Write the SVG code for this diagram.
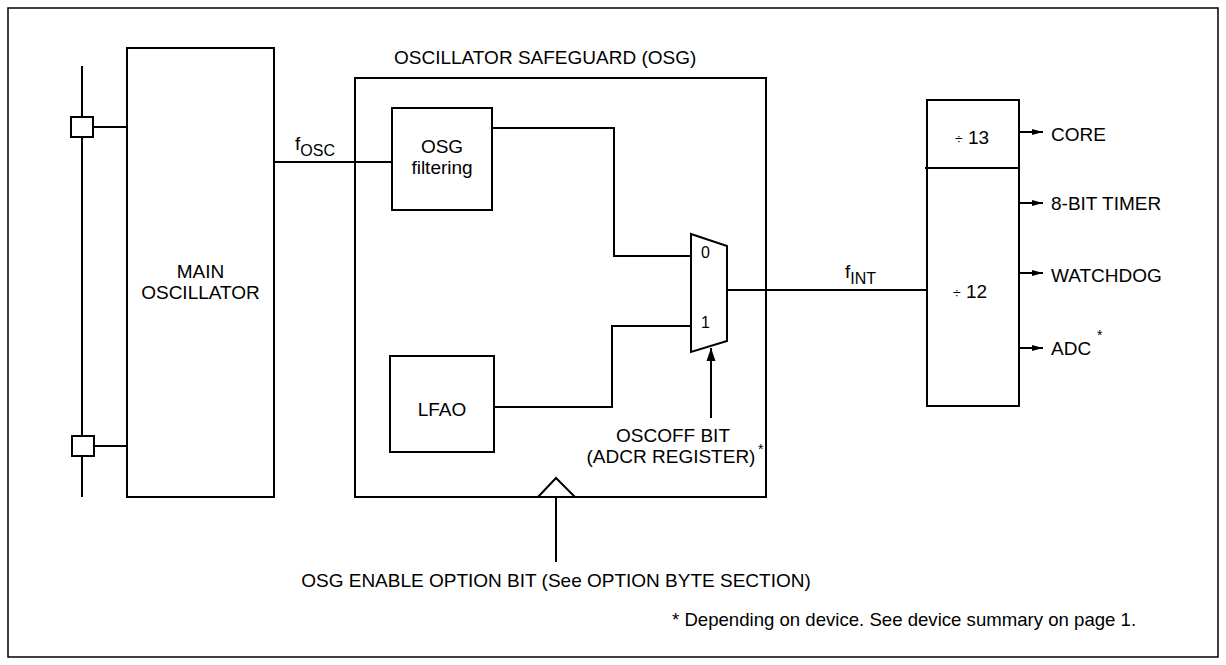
<svg xmlns="http://www.w3.org/2000/svg" width="1226" height="665" viewBox="0 0 1226 665">
<style>
.b{fill:#fff;stroke:#000;stroke-width:2}
.l{fill:none;stroke:#000;stroke-width:2}
text{font-family:"Liberation Sans",Arial,sans-serif;font-size:19px;fill:#000}
.c{text-anchor:middle}
.s{font-size:14px}
.sub{font-size:16px}
.m{font-size:16px}
</style>
<defs>
<marker id="ah" markerWidth="12" markerHeight="8" refX="11" refY="4" orient="auto" markerUnits="userSpaceOnUse">
<path d="M0,1 L11,4 L0,7 Z" fill="#000"/>
</marker>
<marker id="au" markerWidth="14" markerHeight="10" refX="13" refY="5" orient="auto" markerUnits="userSpaceOnUse">
<path d="M0,0.5 L13,5 L0,9.5 Z" fill="#000"/>
</marker>
</defs>
<rect x="8" y="8" width="1210" height="649" fill="#fff" stroke="#000" stroke-width="1.5"/>

<g id="connectors">
<line class="l" x1="82" y1="66" x2="82" y2="497"/>
<line class="l" x1="93" y1="127" x2="127" y2="127"/>
<line class="l" x1="94" y1="446" x2="127" y2="446"/>
<line class="l" x1="274" y1="162" x2="392" y2="162"/>
<polyline class="l" points="492,128 614,128 614,256 691,256"/>
<polyline class="l" points="494,407 612,407 612,326 691,326"/>
<line class="l" x1="727" y1="290" x2="927" y2="290"/>
<line class="l" x1="711" y1="418" x2="711" y2="348" marker-end="url(#au)"/>
<line class="l" x1="556" y1="562" x2="556" y2="480" marker-end="url(#au)"/>
<line class="l" x1="1019" y1="132" x2="1043" y2="132" marker-end="url(#ah)"/>
<line class="l" x1="1019" y1="203" x2="1043" y2="203" marker-end="url(#ah)"/>
<line class="l" x1="1019" y1="273" x2="1043" y2="273" marker-end="url(#ah)"/>
<line class="l" x1="1019" y1="348" x2="1043" y2="348" marker-end="url(#ah)"/>
</g>

<g id="pin-top"><rect class="b" x="71" y="117" width="22" height="20"/></g>
<g id="pin-bottom"><rect class="b" x="72" y="436" width="22" height="20"/></g>

<g id="main-oscillator">
<rect class="b" x="127" y="48" width="147" height="449"/>
<text class="c" x="200.5" y="278">MAIN</text>
<text class="c" x="200.5" y="299">OSCILLATOR</text>
</g>

<g id="fosc-label"><text x="295" y="150">f<tspan class="sub" dy="6">OSC</tspan></text></g>

<g id="osg">
<rect class="l" x="355" y="78" width="411" height="419"/>
<text x="394" y="64">OSCILLATOR SAFEGUARD (OSG)</text>
<polygon points="538,497 556,478 575,497" fill="#fff" stroke="#000" stroke-width="2"/>
</g>

<g id="osg-filtering">
<rect class="b" x="392" y="108" width="100" height="102"/>
<text class="c" x="442" y="153">OSG</text>
<text class="c" x="442" y="174">filtering</text>
</g>

<g id="lfao">
<rect class="b" x="390" y="356" width="104" height="96"/>
<text class="c" x="442" y="416">LFAO</text>
</g>

<g id="mux">
<polygon class="b" points="691,234 727,246 727,341 691,352"/>
<text class="m" x="701" y="258">0</text>
<text class="m" x="701" y="328">1</text>
</g>

<g id="oscoff-label">
<text class="c" x="673" y="442">OSCOFF BIT</text>
<text class="c" x="671" y="463">(ADCR REGISTER)</text>
<text class="s" x="758" y="454">*</text>
</g>

<g id="fint-label"><text x="845" y="278">f<tspan class="sub" dy="6">INT</tspan></text></g>

<g id="divider">
<rect class="b" x="927" y="100" width="92" height="306"/>
<line class="l" x1="925" y1="168" x2="1019" y2="168"/>
<text x="955" y="144"><tspan class="s">÷</tspan> 13</text>
<text x="953" y="298"><tspan class="s">÷</tspan> 12</text>
</g>

<g id="outputs">
<text x="1051" y="141">CORE</text>
<text x="1051" y="210">8-BIT TIMER</text>
<text x="1051" y="282">WATCHDOG</text>
<text x="1051" y="355">ADC</text>
<text class="s" x="1097" y="340">*</text>
</g>

<g id="osg-enable-label"><text class="c" x="556" y="587">OSG ENABLE OPTION BIT (See OPTION BYTE SECTION)</text></g>

<g id="footnote"><text x="672" y="626" style="font-size:18.6px">* Depending on device. See device summary on page 1.</text></g>
</svg>
